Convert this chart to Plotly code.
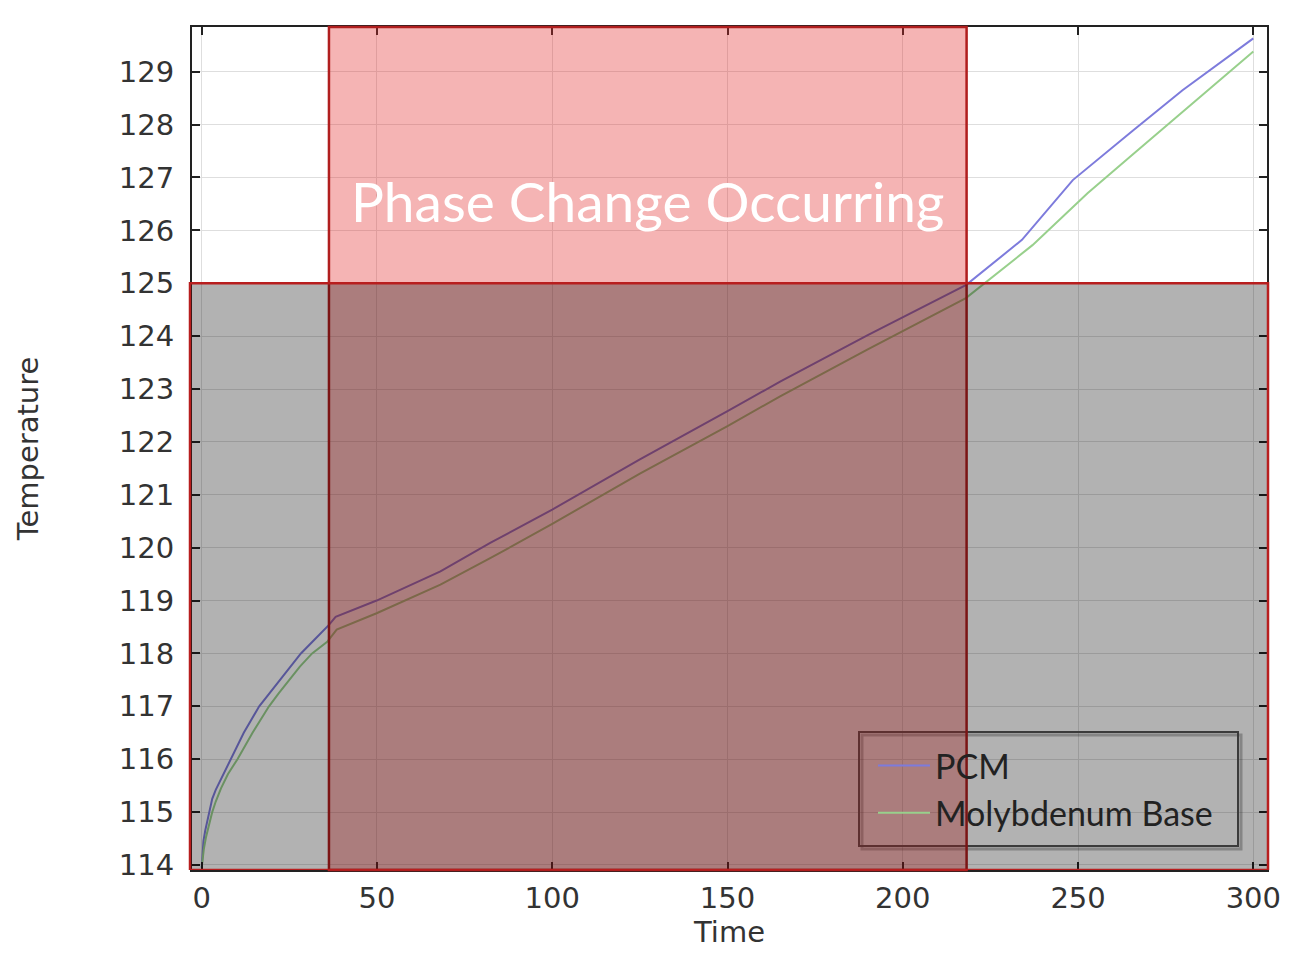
import plotly.graph_objects as go

# ---- data ----
t_pcm = [0, 0.5, 1, 2.1, 3, 4, 5.5, 8.3, 12, 16.4, 20, 24, 28.3, 32, 35, 36.3, 38.2,
         49.9, 68.1, 82.3, 100, 125, 150, 165, 190, 218.1, 234, 248.5, 265.5,
         279.8, 300]
temp_pcm = [113.95, 114.45, 114.65, 115.0, 115.25, 115.42, 115.62, 116.0, 116.5,
            117.0, 117.3, 117.62, 118.0, 118.25, 118.45, 118.54, 118.69, 119.0,
            119.55, 120.09, 120.72, 121.67, 122.58, 123.14, 124.02, 124.97, 125.82,
            126.95, 127.88, 128.65, 129.63]

t_mo = [0, 0.6, 1.2, 2, 3.0, 4, 5.5, 7.5, 10.2, 14.5, 19.2, 22, 25, 28, 31.5, 35.8,
        38.5, 49.9, 68.1, 82.3, 100, 125, 150, 165, 190, 218, 237, 252.7, 265, 280,
        300]
temp_mo = [113.95, 114.3, 114.52, 114.75, 115.0, 115.2, 115.45, 115.72, 116.0, 116.5,
           117.0, 117.25, 117.5, 117.75, 118.0, 118.22, 118.45, 118.76, 119.30,
           119.80, 120.45, 121.40, 122.30, 122.86, 123.75, 124.72, 125.72, 126.70,
           127.40, 128.25, 129.38]

series_names = ["PCM", "Molybdenum Base"]
phase_start, phase_end = 36.3, 218.2
threshold_temp = 125
x_ticks = [0, 50, 100, 150, 200, 250, 300]
y_ticks = list(range(114, 130))
annotation_text = "Phase Change Occurring"

# ---- geometry (pixels of the 1289x961 page; the page body has an 8px margin) ----
W, H = 1289, 961
OFF = 8
FW, FH = W - 2 * OFF, H - 2 * OFF
L, T, R, B = 192, 27, 1267, 870
pw, ph = R - L, B - T


def px_x(p):
    return (p - L) / pw


def px_y(p):
    return (B - p) / ph


fig = go.Figure()
fig.add_trace(go.Scatter(x=t_pcm, y=temp_pcm, mode="lines", name=series_names[0],
                         line=dict(color="#7d7bdc", width=2)))
fig.add_trace(go.Scatter(x=t_mo, y=temp_mo, mode="lines", name=series_names[1],
                         line=dict(color="#98d08c", width=2)))

shapes = [
    # legend frame and its shadow (drawn under the bands, as in the reference)
    dict(type="rect", xref="paper", yref="paper", x0=px_x(862), x1=px_x(1241),
         y0=px_y(849), y1=px_y(735), fillcolor="rgba(0,0,0,0)",
         line=dict(color="rgba(0,0,0,0.25)", width=3), layer="above"),
    dict(type="rect", xref="paper", yref="paper", x0=px_x(859), x1=px_x(1238),
         y0=px_y(846), y1=px_y(732), fillcolor="rgba(0,0,0,0)",
         line=dict(color="#555555", width=2), layer="above"),
    # phase-change band
    dict(type="rect", xref="x", yref="paper", x0=phase_start, x1=phase_end, y0=0, y1=1,
         fillcolor="rgba(225,40,40,0.35)", line=dict(color="#b01e1e", width=2.5),
         layer="above"),
    # below-threshold band
    dict(type="rect", xref="paper", yref="y", x0=px_x(190), x1=px_x(1268),
         y0=113.905, y1=threshold_temp,
         fillcolor="rgba(0,0,0,0.30)", line=dict(color="#b81e1e", width=2.5),
         layer="above"),
]

fig.update_layout(
    width=FW, height=FH,
    margin=dict(l=L - OFF, r=(OFF + FW) - R, t=T - OFF, b=(OFF + FH) - B, pad=0,
                autoexpand=False),
    paper_bgcolor="white", plot_bgcolor="white",
    shapes=shapes,
    showlegend=True,
    legend=dict(x=px_x(873), y=px_y(737), xanchor="left", yanchor="top",
                bgcolor="rgba(0,0,0,0)", borderwidth=0,
                font=dict(family="Lato", size=34, color="#222222"),
                itemwidth=52, tracegroupgap=0),
    annotations=[dict(text=annotation_text, x=(phase_start + phase_end) / 2,
                      y=126.55, xref="x", yref="y", showarrow=False,
                      font=dict(family="Lato", size=55, color="white"))],
)

axis_common = dict(
    showline=True, linecolor="#222222", linewidth=2, mirror="ticks",
    ticks="inside", ticklen=8, tickwidth=2, tickcolor="#222222",
    showgrid=True, gridcolor="#dedede", gridwidth=1, zeroline=False,
    tickfont=dict(family="DejaVu Sans", size=29, color="#333333"),
    ticklabeloverflow="allow", automargin=False,
)

fig.update_xaxes(range=[-2.77, 303.9], tickvals=x_ticks, ticklabelstandoff=1,
                 title=dict(text="Time", standoff=8,
                            font=dict(family="DejaVu Sans", size=29, color="#333333")),
                 **axis_common)
fig.update_yaxes(range=[113.905, 129.845], tickvals=y_ticks, ticklabelstandoff=10,
                 title=dict(text="Temperature", standoff=72,
                            font=dict(family="DejaVu Sans", size=29, color="#333333")),
                 **axis_common)

fig.write_html("out.html")
